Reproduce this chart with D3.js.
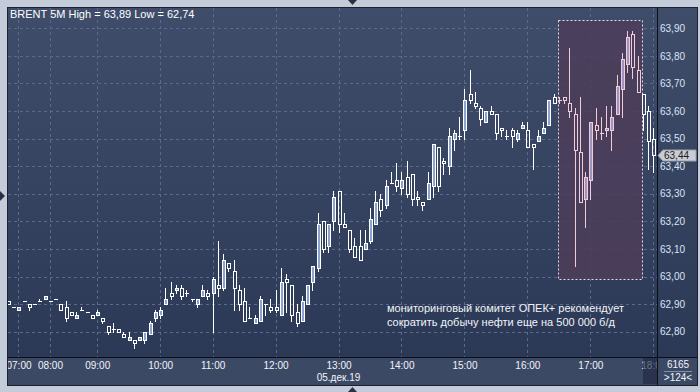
<!DOCTYPE html>
<html>
<head>
<meta charset="utf-8">
<title>BRENT 5M</title>
<script src="https://d3js.org/d3.v7.min.js"></script>
<style>
  body { margin: 0; background: #c4ccd9; }
  svg { display: block; font-family: "Liberation Sans", Arial, sans-serif; }
</style>
</head>
<body>
<svg id="chart" width="700" height="392"></svg>
<script>
// BRENT, 5 minute bars, 05.12.19, 07:00 .. 18:00 (124 bars)
var open  = [62.91,62.89,62.88,62.91,62.90,62.90,62.91,62.92,62.91,62.92,
             62.90,62.89,62.87,62.85,62.88,62.87,62.86,62.86,62.85,62.82,
             62.81,62.81,62.79,62.77,62.77,62.77,62.77,62.79,62.85,62.86,
             62.90,62.94,62.95,62.96,62.94,62.92,62.90,62.93,62.94,62.94,
             62.97,62.96,63.05,63.02,62.95,62.91,62.85,62.83,62.84,62.90,
             62.89,62.89,62.86,62.99,62.97,62.87,62.84,62.90,62.98,63.03,
             63.20,63.11,63.20,63.31,63.19,63.17,63.11,63.11,63.10,63.13,
             63.19,63.28,63.26,63.34,63.35,63.32,63.36,63.37,63.29,63.27,
             63.28,63.33,63.47,63.42,63.40,63.50,63.51,63.53,63.66,63.63,
             63.61,63.56,63.60,63.59,63.54,63.51,63.53,63.50,63.54,63.53,
             63.48,63.49,63.52,63.55,63.65,63.64,63.65,63.63,63.59,63.45,
             63.28,63.35,63.55,63.52,63.53,63.53,63.59,63.68,63.77,63.88,
             63.75,63.66,63.60,63.50];
var high  = [62.91,62.89,62.89,62.91,62.90,62.90,62.92,62.93,62.91,62.92,
             62.90,62.91,62.87,62.87,62.89,62.87,62.86,62.88,62.85,62.82,
             62.83,62.81,62.80,62.80,62.77,62.78,62.80,62.84,62.88,62.89,
             62.96,62.98,62.97,62.97,62.95,62.92,62.92,62.97,62.95,63.00,
             63.13,63.08,63.05,63.06,62.97,62.96,62.89,62.86,62.93,62.90,
             62.92,62.95,63.03,63.01,62.97,62.90,62.93,62.97,63.04,63.23,
             63.20,63.19,63.31,63.31,63.23,63.17,63.14,63.17,63.17,63.25,
             63.31,63.30,63.35,63.38,63.41,63.38,63.42,63.37,63.31,63.27,
             63.38,63.48,63.47,63.43,63.54,63.53,63.58,63.68,63.75,63.67,
             63.62,63.60,63.62,63.59,63.54,63.53,63.54,63.53,63.56,63.56,
             63.48,63.53,63.56,63.64,63.66,63.65,63.65,63.83,63.61,63.65,
             63.38,63.56,63.61,63.58,63.62,63.62,63.73,63.81,63.89,63.89,
             63.80,63.66,63.62,63.54];
var low   = [62.90,62.89,62.88,62.91,62.88,62.90,62.91,62.92,62.91,62.92,
             62.88,62.84,62.86,62.85,62.88,62.87,62.85,62.86,62.83,62.79,
             62.80,62.80,62.78,62.77,62.74,62.77,62.76,62.79,62.84,62.85,
             62.90,62.92,62.94,62.92,62.93,62.91,62.89,62.93,62.92,62.80,
             62.93,62.95,63.02,62.88,62.88,62.84,62.85,62.83,62.84,62.86,
             62.87,62.87,62.86,62.87,62.84,62.82,62.84,62.90,62.95,63.02,
             63.09,63.09,63.17,63.16,63.18,63.09,63.07,63.06,63.10,63.12,
             63.19,63.22,63.25,63.34,63.31,63.30,63.29,63.26,63.26,63.24,
             63.28,63.29,63.31,63.37,63.37,63.46,63.50,63.50,63.63,63.61,
             63.55,63.56,63.59,63.50,63.51,63.50,63.47,63.49,63.54,63.47,
             63.39,63.49,63.52,63.55,63.63,63.63,63.63,63.58,63.04,63.27,
             63.18,63.28,63.50,63.50,63.51,63.46,63.59,63.58,63.74,63.72,
             63.67,63.53,63.39,63.38];
var close = [62.90,62.89,62.89,62.91,62.89,62.90,62.91,62.93,62.91,62.92,
             62.88,62.85,62.86,62.86,62.88,62.87,62.85,62.87,62.84,62.80,
             62.81,62.80,62.78,62.78,62.76,62.78,62.80,62.83,62.87,62.88,
             62.92,62.93,62.96,62.93,62.94,62.92,62.92,62.95,62.93,62.99,
             62.96,63.06,63.03,62.96,62.90,62.84,62.85,62.85,62.92,62.90,
             62.88,62.88,62.98,62.98,62.86,62.83,62.91,62.97,63.04,63.19,
             63.10,63.19,63.29,63.19,63.18,63.10,63.07,63.06,63.12,63.21,
             63.27,63.24,63.33,63.34,63.33,63.35,63.30,63.28,63.28,63.26,
             63.34,63.48,63.33,63.41,63.51,63.52,63.51,63.64,63.64,63.62,
             63.57,63.60,63.59,63.52,63.53,63.51,63.51,63.52,63.55,63.47,
             63.47,63.51,63.54,63.64,63.63,63.64,63.64,63.60,63.46,63.27,
             63.36,63.56,63.53,63.52,63.54,63.58,63.69,63.79,63.87,63.76,
             63.67,63.59,63.49,63.44];

var hourLabels = ["07:00","08:00","09:00","10:00","11:00","12:00",
                  "13:00","14:00","15:00","16:00","17:00","18:00"];
var hourIndex  = [2, 8, 17, 29, 39, 51, 63, 75, 87, 99, 111, 123];
var priceTicks = [62.8, 62.9, 63.0, 63.1, 63.2, 63.3, 63.4, 63.5, 63.6, 63.7, 63.8, 63.9];
var lastPrice  = 63.44;
var dateLabel  = "05.дек.19";
var dateIndex  = 63;
var title      = "BRENT 5M High = 63,89 Low = 62,74";
var note       = ["мониторинговый комитет ОПЕК+ рекомендует",
                  "сократить добычу нефти еще на 500 000 б/д"];
var boxIndex   = [104.8, 120.8];   // highlighted bars
var boxPrice   = [62.99, 63.93];
var barInfo    = ["6165", ">124<"];

// layout
var L = 8, T = 8, R = 657, B = 357, FR = 697, FB = 385;

var x = d3.scaleLinear().domain([0, 123]).range([8, 653.3]);
var y = d3.scaleLinear().domain([62.8, 63.9]).range([331.7, 28.3]);
var fmt = d => d.toFixed(2).replace(".", ",");

var svg = d3.select("#chart");
var defs = svg.append("defs");
var grad = defs.append("linearGradient").attr("id", "bg")
    .attr("x1", 0).attr("y1", 0).attr("x2", 0).attr("y2", 1);
grad.append("stop").attr("offset", "0%").attr("stop-color", "#3f4d6b");
grad.append("stop").attr("offset", "100%").attr("stop-color", "#2c3956");
defs.append("clipPath").attr("id", "plotClip").append("rect")
    .attr("x", L).attr("y", T).attr("width", R - L).attr("height", B - T);
defs.append("clipPath").attr("id", "axisClip").append("rect")
    .attr("x", L).attr("y", B).attr("width", R - L).attr("height", FB - B);

// frame and panels
svg.append("rect").attr("x", 7.5).attr("y", 7.5).attr("width", FR - 7).attr("height", FB - 7)
    .attr("fill", "#3c4965").attr("stroke", "#1b2130");
svg.append("rect").attr("x", L).attr("y", T).attr("width", FR - L).attr("height", B - T)
    .attr("fill", "url(#bg)");

// grid
var plot = svg.append("g").attr("clip-path", "url(#plotClip)");
plot.selectAll("line.hg").data(priceTicks).join("line").attr("class", "hg")
    .attr("x1", L).attr("x2", R)
    .attr("y1", d => Math.round(y(d)) + 0.5).attr("y2", d => Math.round(y(d)) + 0.5)
    .attr("stroke", "#5a6a8b").attr("stroke-dasharray", "3,3");
plot.selectAll("line.vg").data(hourIndex).join("line").attr("class", "vg")
    .attr("x1", d => Math.round(x(d)) + 0.5).attr("x2", d => Math.round(x(d)) + 0.5)
    .attr("y1", T).attr("y2", B)
    .attr("stroke", "#5a6a8b").attr("stroke-dasharray", "3,3");

// highlighted zone
plot.append("rect")
    .attr("x", Math.round(x(boxIndex[0])) + 0.5).attr("y", Math.round(y(boxPrice[1])) + 0.5)
    .attr("width", Math.round(x(boxIndex[1])) - Math.round(x(boxIndex[0])))
    .attr("height", Math.round(y(boxPrice[0])) - Math.round(y(boxPrice[1])))
    .attr("fill", "#4c3d5a").attr("fill-opacity", 0.88)
    .attr("stroke", "#e6dde6").attr("stroke-dasharray", "2,2");

// candles: 4px wide bodies, wick on the 2nd pixel column
var inBox = i => x(i) > x(boxIndex[0]) && x(i) < x(boxIndex[1]);
plot.append("g").selectAll("g").data(d3.range(open.length)).join("g")
    .each(function (i) {
        var g = d3.select(this);
        var cx = Math.round(x(i));
        var o = open[i], c = close[i];
        var top = Math.round(y(Math.max(o, c))), bot = Math.round(y(Math.min(o, c)));
        var yh = Math.round(y(high[i])), yl = Math.round(y(low[i]));
        var col = inBox(i) ? "#f2cdd9" : "#ffffff";
        var upFill = inBox(i) ? "#9d94c2" : "#8aa3d2";
        if (top === bot) {
            g.append("line").attr("x1", cx + 0.5).attr("x2", cx + 0.5)
                .attr("y1", yh).attr("y2", yl + 1).attr("stroke", col);
            g.append("line").attr("x1", cx - 1).attr("x2", cx + 3)
                .attr("y1", top + 0.5).attr("y2", top + 0.5).attr("stroke", col);
            return;
        }
        if (yh < top) g.append("line").attr("x1", cx + 0.5).attr("x2", cx + 0.5)
            .attr("y1", yh).attr("y2", top).attr("stroke", col);
        if (yl > bot) g.append("line").attr("x1", cx + 0.5).attr("x2", cx + 0.5)
            .attr("y1", bot + 1).attr("y2", yl + 1).attr("stroke", col);
        g.append("rect").attr("x", cx - 0.5).attr("y", top + 0.5)
            .attr("width", 3).attr("height", bot - top)
            .attr("fill", c > o ? upFill : "none").attr("stroke", col);
    });

// texts in the plot
svg.append("text").attr("x", 10).attr("y", 17.5).attr("font-size", 11)
    .attr("fill", "#ffffff").text(title);
svg.append("g").selectAll("text").data(note).join("text")
    .attr("x", 387).attr("y", (d, i) => 312 + i * 13.5)
    .attr("font-size", 11).attr("fill", "#f2f4f8").text(d => d);

// separators
svg.append("line").attr("x1", L).attr("x2", FR).attr("y1", B + 0.5).attr("y2", B + 0.5)
    .attr("stroke", "#0c0f16");
svg.append("line").attr("x1", R + 0.5).attr("x2", R + 0.5).attr("y1", T).attr("y2", FB)
    .attr("stroke", "#0c0f16");

// price axis
var gy = svg.append("g").attr("transform", "translate(" + R + ",0)")
    .call(d3.axisRight(y).tickValues(priceTicks).tickSize(0).tickPadding(3).tickFormat(fmt));
gy.select(".domain").remove();
gy.attr("font-family", null).attr("font-size", 10);
gy.selectAll("text").attr("fill", "#dbe4f4");

// last price tag
var yp = Math.round(y(lastPrice));
svg.append("path")
    .attr("d", "M" + (R + 1) + "," + (yp + 0.5) + "L" + (R + 6) + "," + (yp - 5) +
               "H" + (FR - 1) + "V" + (yp + 6) + "H" + (R + 6) + "Z")
    .attr("fill", "#c9ccd3").attr("stroke", "#9aa0ab");
svg.append("text").attr("x", R + 7).attr("y", yp + 4).attr("font-size", 10)
    .attr("fill", "#1a1c22").text(fmt(lastPrice));

// time axis
var gxc = svg.append("g").attr("clip-path", "url(#axisClip)");
var gx = gxc.append("g").attr("transform", "translate(0," + B + ")")
    .call(d3.axisBottom(x).tickValues(hourIndex).tickSize(0).tickPadding(5)
        .tickFormat((d, i) => hourLabels[i]));
gx.select(".domain").remove();
gx.attr("font-family", null).attr("font-size", 10);
gx.selectAll("text").attr("fill", "#f2f4f8");
gxc.append("rect").attr("x", 643).attr("y", B + 1).attr("width", R - 643).attr("height", FB - B - 2)
    .attr("fill", "#1f2840").attr("fill-opacity", 0.65);
svg.append("text").attr("x", x(dateIndex)).attr("y", 380.5).attr("text-anchor", "middle")
    .attr("font-size", 10).attr("fill", "#f2f4f8").text(dateLabel);

// bar counter box
svg.append("text").attr("x", 678).attr("y", 368).attr("text-anchor", "middle")
    .attr("font-size", 10).attr("fill", "#f2f4f8").text(barInfo[0]);
svg.append("line").attr("x1", 664).attr("x2", 692).attr("y1", 371.5).attr("y2", 371.5)
    .attr("stroke", "#8391a8");
svg.append("text").attr("x", 678).attr("y", 381).attr("text-anchor", "middle")
    .attr("font-size", 10).attr("fill", "#f2f4f8").text(barInfo[1]);

// small scroll markers
svg.append("path").attr("d", "M348,0H357L352.5,5Z").attr("fill", "#2a3142");
svg.append("path").attr("d", "M348,392H357L352.5,387Z").attr("fill", "#2a3142");
svg.append("path").attr("d", "M0,191V201L5,196Z").attr("fill", "#2a3142");
</script>
</body>
</html>
